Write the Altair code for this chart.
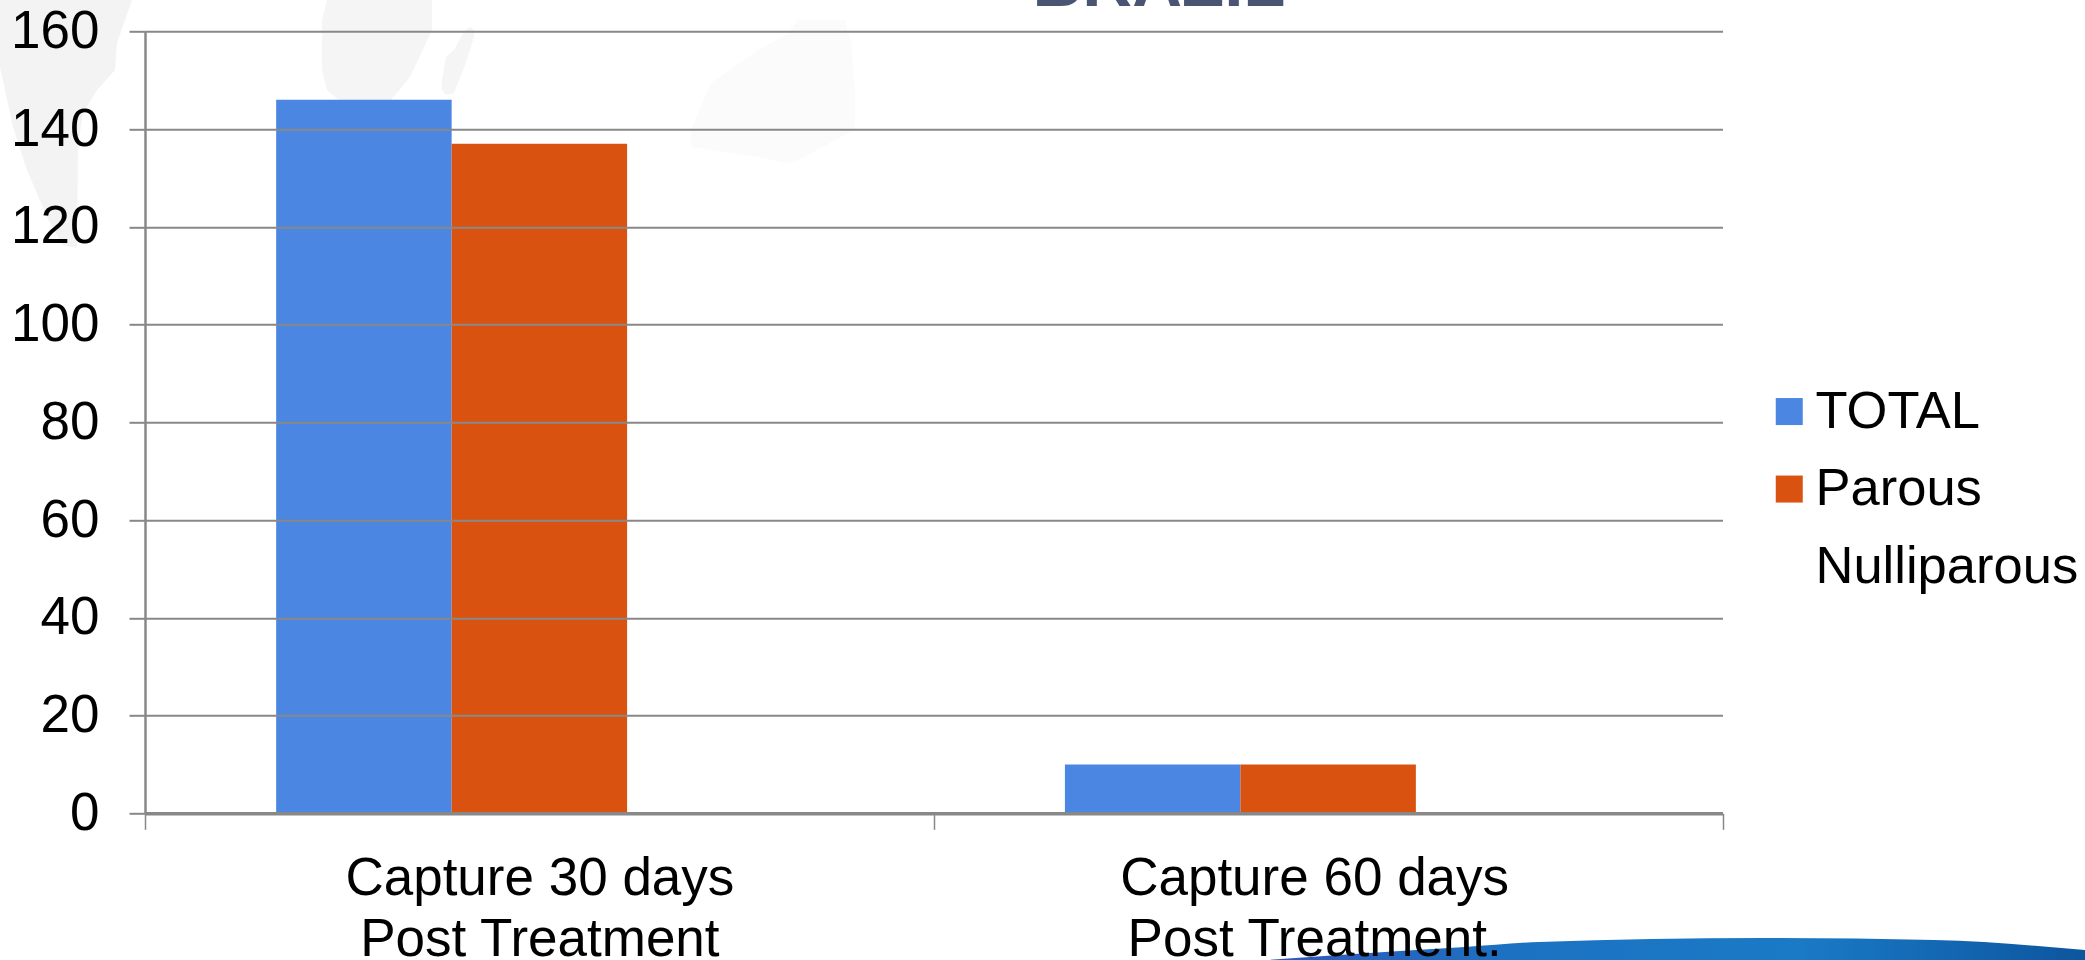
import altair as alt
import pandas as pd

# Chart values
captures = ["Capture 30 days\nPost Treatment", "Capture 60 days\nPost Treatment."]
series = ["TOTAL", "Parous", "Nulliparous"]
total = [146, 10]
parous = [137, 10]
series_colors = ["#4A86E2", "#D95210", "#FFFFFF"]
y_ticks = [0, 20, 40, 60, 80, 100, 120, 140, 160]
heading = "BRAZIL"

FONT = "Liberation Sans"
AXIS_GREY = "#888888"
PAGE_W, PAGE_H = 2085, 960
LEFT, TOP, PLOT_W, PLOT_H = 145, 31.3, 1577.5, 782

bars = pd.DataFrame(
    [{"capture": c, "series": "TOTAL", "count": v} for c, v in zip(captures, total)]
    + [{"capture": c, "series": "Parous", "count": v} for c, v in zip(captures, parous)]
)

# Slide artwork behind the chart, expressed in page units
page_x = alt.Scale(domain=[0, PAGE_W], range=[-LEFT, PAGE_W - LEFT])
page_y = alt.Scale(domain=[0, PAGE_H], range=[-TOP, PAGE_H - TOP])


def backdrop_shape(xs, tops, bottoms, fill):
    frame = pd.DataFrame({"px": xs, "top": tops, "bottom": bottoms})
    return alt.Chart(frame).mark_area(color=fill, clip=False).encode(
        x=alt.X("px:Q", scale=page_x, axis=None),
        y=alt.Y("top:Q", scale=page_y, axis=None),
        y2="bottom:Q",
    )


south_america = backdrop_shape(
    [0, 13, 27, 47, 57, 63, 77, 78, 83, 97, 115, 117, 132],
    [0] * 13,
    [67, 127, 170, 217, 235, 245, 248, 145, 113, 90, 70, 43, 0],
    "#F3F3F3",
)
africa = backdrop_shape(
    [322, 327, 339, 391, 410, 432],
    [20, 0, 0, 0, 0, 0],
    [70, 90, 100, 100, 77, 30],
    "#F5F5F5",
)
madagascar = backdrop_shape(
    [442, 446, 454, 465, 470, 474],
    [80, 57, 50, 30, 27, 30],
    [90, 95, 93, 65, 50, 37],
    "#F5F5F5",
)
australia = backdrop_shape(
    [691, 711, 758, 786, 798, 845, 851, 855],
    [130, 83, 50, 35, 20, 20, 43, 90],
    [147, 150, 157, 163, 160, 135, 132, 125],
    "#FBFBFB",
)

swoosh_frame = pd.DataFrame(
    {
        "px": [1268, 1400, 1465, 1539, 1764, 1934, 2085],
        "top": [960, 951, 947, 942, 938, 940, 950],
        "bottom": [960] * 7,
    }
)
swoosh = alt.Chart(swoosh_frame).mark_area(
    interpolate="monotone",
    clip=False,
    color=alt.Gradient(
        gradient="linear",
        x1=0, x2=1, y1=0, y2=0,
        stops=[
            alt.GradientStop(offset=0, color="#3058B8"),
            alt.GradientStop(offset=0.3, color="#1C72C2"),
            alt.GradientStop(offset=0.65, color="#1A7AC6"),
            alt.GradientStop(offset=1, color="#0D559F"),
        ],
    ),
).encode(
    x=alt.X("px:Q", scale=page_x, axis=None),
    y=alt.Y("top:Q", scale=page_y, axis=None),
    y2="bottom:Q",
)

heading_mark = alt.Chart(pd.DataFrame({"px": [1159], "py": [5.5], "t": [heading]})).mark_text(
    font=FONT, fontSize=69, fontWeight="bold", color="#4A5573", align="center", baseline="alphabetic"
).encode(
    x=alt.X("px:Q", scale=page_x, axis=None),
    y=alt.Y("py:Q", scale=page_y, axis=None),
    text="t:N",
)

columns = alt.Chart(bars).mark_bar(clip=False).encode(
    x=alt.X(
        "capture:N",
        sort=captures,
        title=None,
        scale=alt.Scale(paddingInner=0, paddingOuter=0),
        axis=alt.Axis(
            labelAngle=0,
            labelExpr="split(datum.label, '\\n')",
            labelFont=FONT,
            labelFontSize=53,
            labelColor="#000000",
            labelLineHeight=61,
            labelPadding=23,
            labelLimit=1000,
            labelOffset={
                "condition": {"test": "indexof(datum.label, '60') >= 0", "value": -14},
                "value": 0,
            },
            labelBound=False,
            labelOverlap=False,
            tickBand="extent",
            tickSize=16,
            tickWidth=1.5,
            tickColor=AXIS_GREY,
            domainColor=AXIS_GREY,
            domainWidth=3.5,
            grid=False,
            zindex=1,
        ),
    ),
    xOffset=alt.XOffset(
        "series:N",
        sort=series,
        scale=alt.Scale(domain=series, paddingInner=0, paddingOuter=0.7475),
    ),
    y=alt.Y(
        "count:Q",
        title=None,
        scale=alt.Scale(domain=[0, 160], nice=False),
        axis=alt.Axis(
            values=y_ticks,
            labelFont=FONT,
            labelFontSize=53,
            labelColor="#000000",
            labelPadding=30,
            labelLimit=1000,
            labelBound=False,
            labelFlush=False,
            tickSize=16,
            tickWidth=2,
            tickColor=AXIS_GREY,
            domainColor=AXIS_GREY,
            domainWidth=2.5,
            grid=True,
            gridColor=AXIS_GREY,
            gridWidth=2,
            zindex=1,
        ),
    ),
    color=alt.Color(
        "series:N",
        scale=alt.Scale(domain=series, range=series_colors),
        legend=alt.Legend(
            title=None,
            orient="none",
            legendX=1618,
            legendY=354,
            symbolType="square",
            symbolSize=729,
            symbolStrokeWidth=0,
            symbolOpacity=1,
            labelFont=FONT,
            labelFontSize=52.5,
            labelColor="#000000",
            labelLimit=1000,
            labelOffset=0,
            rowPadding=24.5,
            padding=0,
            values=series,
        ),
    ),
)

chart = (
    alt.layer(south_america, africa, madagascar, australia, heading_mark, swoosh, columns)
    .resolve_scale(x="independent", y="independent", color="independent")
    .resolve_axis(x="independent", y="independent")
    .properties(
        width=PLOT_W,
        height=PLOT_H,
        autosize=alt.AutoSizeParams(type="none"),
        padding={"left": LEFT, "top": TOP, "right": PAGE_W - LEFT - PLOT_W, "bottom": PAGE_H - TOP - PLOT_H},
        background="#FFFFFF",
    )
    .configure_view(stroke=None)
)

chart.save("out.html", embed_options={"renderer": "svg", "actions": False})
